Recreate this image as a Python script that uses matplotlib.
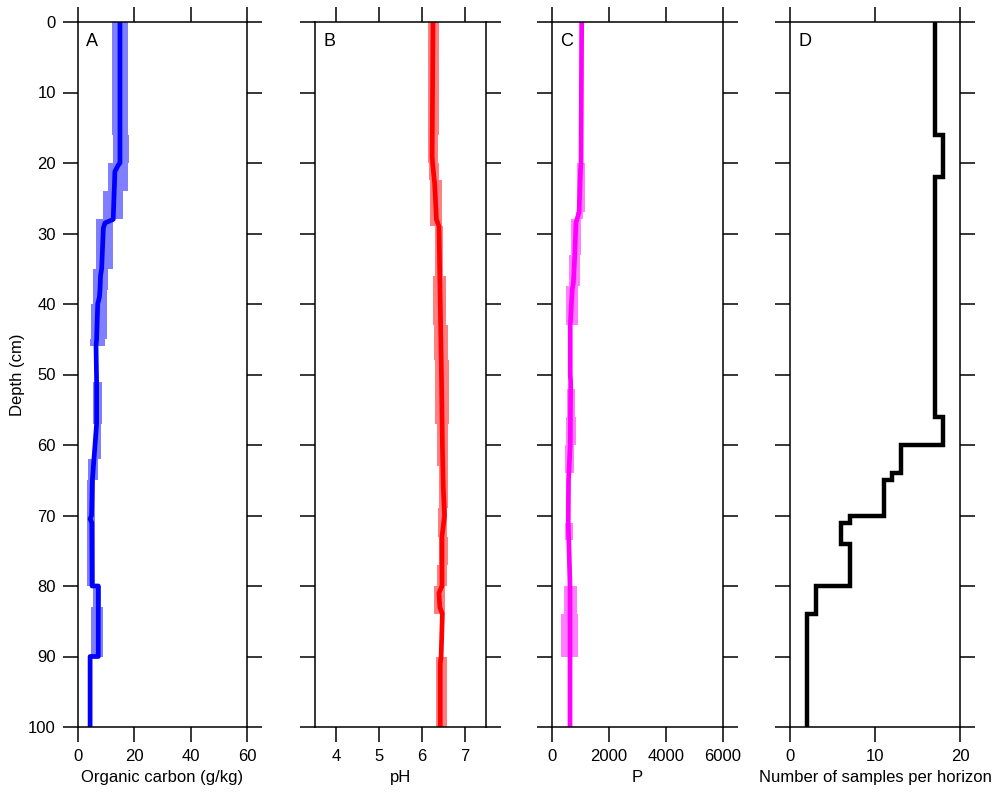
import matplotlib
matplotlib.use("Agg")
import matplotlib.pyplot as plt
import numpy as np

plt.rcParams['font.family'] = ['Liberation Sans', 'DejaVu Sans']

# --- Organic carbon (g/kg) ---
oc_line_val = [14.9, 14.9, 14.3, 13.1, 12.5, 9.6, 9.0, 8.4, 8.0, 7.8, 7.6, 7.0, 6.6, 6.4,
               6.6, 6.6, 5.1, 4.8, 4.3, 4.9, 5.0, 7.2, 7.2, 4.3, 4.3]
oc_line_dep = [0, 20, 20.3, 21.2, 28, 28.5, 29.2, 35, 36, 38, 39, 40, 45, 46,
               51, 57, 65, 70, 70.5, 71, 80, 80, 90, 90, 100]
oc_edges = [0, 16, 20, 24, 28, 35, 38, 40, 45, 46, 51, 57, 62, 65, 70, 80, 83, 90, 100]
oc_lo = [11.9, 12.5, 10.8, 9.0, 6.4, 5.4, 5.2, 4.6, 4.3, np.nan, 5.4, 6.0, 3.7, 3.3, 3.1, 5.2, 4.5, np.nan]
oc_hi = [17.8, 18.2, 17.9, 15.9, 12.5, 10.8, 10.4, 10.2, 9.6, np.nan, 8.4, 8.0, 7.2, 6.0, 6.0, 8.0, 8.8, np.nan]

# --- pH ---
ph_line_val = [6.26, 6.24, 6.25, 6.30, 6.34, 6.40, 6.43, 6.46, 6.48, 6.50, 6.53, 6.47,
               6.47, 6.40, 6.42, 6.48, 6.45, 6.43, 6.43]
ph_line_dep = [0, 19, 20, 23, 28, 29, 40, 51, 60, 66, 70, 73, 80, 81, 83, 84, 90, 91, 100]
ph_edges = [0, 16, 20, 22.4, 29, 36, 43, 48, 57, 63, 69, 73, 77, 80, 84, 90, 100]
ph_lo = [6.14, 6.15, 6.17, 6.20, 6.31, 6.27, 6.29, 6.31, 6.35, 6.41, 6.38, 6.41, 6.36, 6.28, np.nan, 6.33]
ph_hi = [6.41, 6.38, 6.40, 6.46, 6.50, 6.56, 6.60, 6.64, 6.62, 6.62, 6.58, 6.60, 6.58, 6.54, np.nan, 6.58]

# --- P ---
p_line_val = [1041, 1020, 1000, 950, 840, 800, 750, 710, 640, 640, 655, 640, 580, 570, 600, 632, 632]
p_line_dep = [0, 20, 21, 27, 28.5, 33, 37, 38, 43, 50, 51, 60, 65, 71, 75, 80, 100]
p_edges = [0, 20, 27, 28, 33, 37.5, 43, 52, 56, 60, 64, 71, 73.5, 80, 84, 90, 100]
p_lo = [np.nan, 880, 850, 650, 590, 505, np.nan, 515, 490, 456, np.nan, 456, np.nan, 433, 316, np.nan]
p_hi = [np.nan, 1150, 1100, 1030, 990, 910, np.nan, 810, 840, 783, np.nan, 725, np.nan, 866, 901, np.nan]

# --- Number of samples per horizon ---
n_edges = [0, 16, 22, 56, 60, 64, 65, 70, 71, 74, 80, 84, 100]
n_count = [17, 18, 17, 18, 13, 12, 11, 7, 6, 7, 3, 2]


def band_xy(edges, lo, hi):
    # stepped band: each horizon gets a top and bottom point
    y = np.repeat(edges, 2)[1:-1]
    return y, np.repeat(lo, 2), np.repeat(hi, 2)


fig = plt.figure(figsize=(9.98, 7.94), dpi=100)
bottom, height = 67 / 794, 705 / 794
lefts = [78, 315, 552, 790]
widths = [169, 171, 171, 170]
axes = [fig.add_axes([l / 998, bottom, w / 998, height]) for l, w in zip(lefts, widths)]
axA, axB, axC, axD = axes

y, lo, hi = band_xy(oc_edges, oc_lo, oc_hi)
axA.fill_betweenx(y, lo, hi, color='#7f7fff', lw=0)
axA.plot(oc_line_val, oc_line_dep, color='#0000ff', lw=3.4)
axA.set_xlim(0, 60)
axA.set_xticks([0, 20, 40, 60])
axA.set_xlabel('Organic carbon (g/kg)')
axA.set_ylabel('Depth (cm)', labelpad=2)

y, lo, hi = band_xy(ph_edges, ph_lo, ph_hi)
axB.fill_betweenx(y, lo, hi, color='#ff8080', lw=0)
axB.plot(ph_line_val, ph_line_dep, color='#ff0000', lw=3.4)
axB.set_xlim(3.5, 7.5)
axB.set_xticks([4, 5, 6, 7])
axB.set_xlabel('pH')

y, lo, hi = band_xy(p_edges, p_lo, p_hi)
axC.fill_betweenx(y, lo, hi, color='#ff80ff', lw=0)
axC.plot(p_line_val, p_line_dep, color='#ff00ff', lw=3.4)
axC.set_xlim(0, 6000)
axC.set_xticks([0, 2000, 4000, 6000])
axC.set_xlabel('P')

axD.stairs(n_count, n_edges, orientation='horizontal', baseline=None, color='black', lw=3.2)
axD.set_xlim(0, 20)
axD.set_xticks([0, 10, 20])
axD.set_xlabel('Number of samples per horizon')

for ax, letter in zip(axes, 'ABCD'):
    ax.set_ylim(100, 0)
    ax.set_yticks(np.arange(0, 101, 10))
    ax.tick_params(direction='out', length=11, width=1.1, labelsize=12, pad=5,
                   top=True, right=True, bottom=True, left=True)
    ax.xaxis.label.set_size(12)
    ax.yaxis.label.set_size(12)
    for s in ax.spines.values():
        s.set_linewidth(1.1)
    ax.text(0.05, 0.985, letter, transform=ax.transAxes, fontsize=13, va='top', ha='left')
    if ax is not axA:
        ax.tick_params(labelleft=False)

fig.savefig('out.png', dpi=100)
